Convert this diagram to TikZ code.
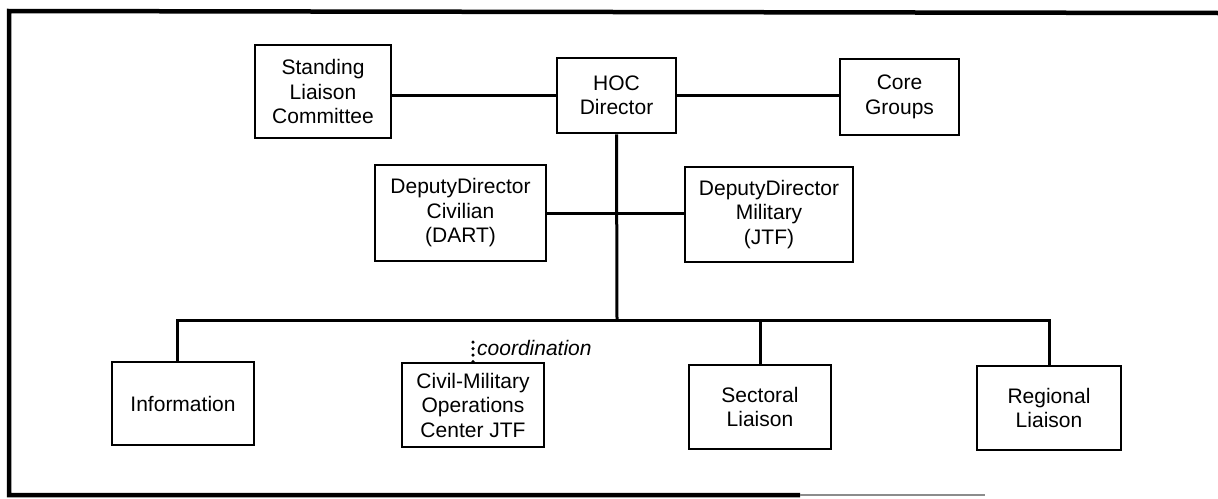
\documentclass[tikz,border=0pt]{standalone}
\usepackage{fontspec}
\setmainfont{Liberation Sans}
\begin{document}
\begin{tikzpicture}[x=1pt,y=-1pt,
  box/.style={draw,line width=2.6pt,align=center,inner sep=0pt,
    font=\fontsize{21}{24.5}\selectfont},
  link/.style={line width=3pt},
  frame/.style={line width=4.5pt}]
\useasboundingbox (0,0) rectangle (1218,498);
% outer frame (open on the right, as in the scan)
\draw[frame] (1218,13) -- (9,11) -- (9,495) -- (800,495);
\draw[line width=2.5pt,black!45] (800,495) -- (985,495);
% nodes
\node[box,minimum width=136pt,minimum height=93pt] (slc) at (323,91.5) {Standing\\Liaison\\Committee};
\node[box,minimum width=119pt,minimum height=75pt] (hoc) at (616.5,95.5) {HOC\\Director};
\node[box,minimum width=119pt,minimum height=76pt] (core) at (899.5,97) {Core\\Groups};
\node[box,minimum width=171pt,minimum height=96pt] (ddc) at (460.5,213) {DeputyDirector\\Civilian\\(DART)};
\node[box,minimum width=168pt,minimum height=95pt] (ddm) at (769,214.5) {DeputyDirector\\Military\\(JTF)};
\node[box,minimum width=142pt,minimum height=83pt] (info) at (183,403.5) {Information};
\node[box,minimum width=142pt,minimum height=84pt] (cmoc) at (473,405) {Civil-Military\\Operations\\Center JTF};
\node[box,minimum width=142pt,minimum height=84pt] (sect) at (760,407) {Sectoral\\Liaison};
\node[box,minimum width=144pt,minimum height=84pt] (reg) at (1049,408) {Regional\\Liaison};
% junctions
\coordinate (bus) at (617,320);
\coordinate (ctop) at (473,337);
% connectors
\draw[link] (hoc.west) -- (hoc.west -| slc.east);
\draw[link] (hoc.east) -- (hoc.east -| core.west);
\draw[link] (hoc.south) -- (bus);
\draw[link] (ddc.east) -- (ddc.east -| ddm.west);
\draw[link] ([xshift=-6pt]info.north) |- (bus);
\draw[link] (bus) -| (reg.north);
\draw[link] (sect.north) -- (sect.north |- bus);
\draw[line width=3.5pt,line cap=round,dash pattern=on 0pt off 6.5pt] (cmoc.north) -- (ctop);
\node[anchor=west,inner sep=0pt,font=\fontsize{21}{24.5}\selectfont\itshape] (coord) at (477,348) {coordination};
\end{tikzpicture}
\end{document}
